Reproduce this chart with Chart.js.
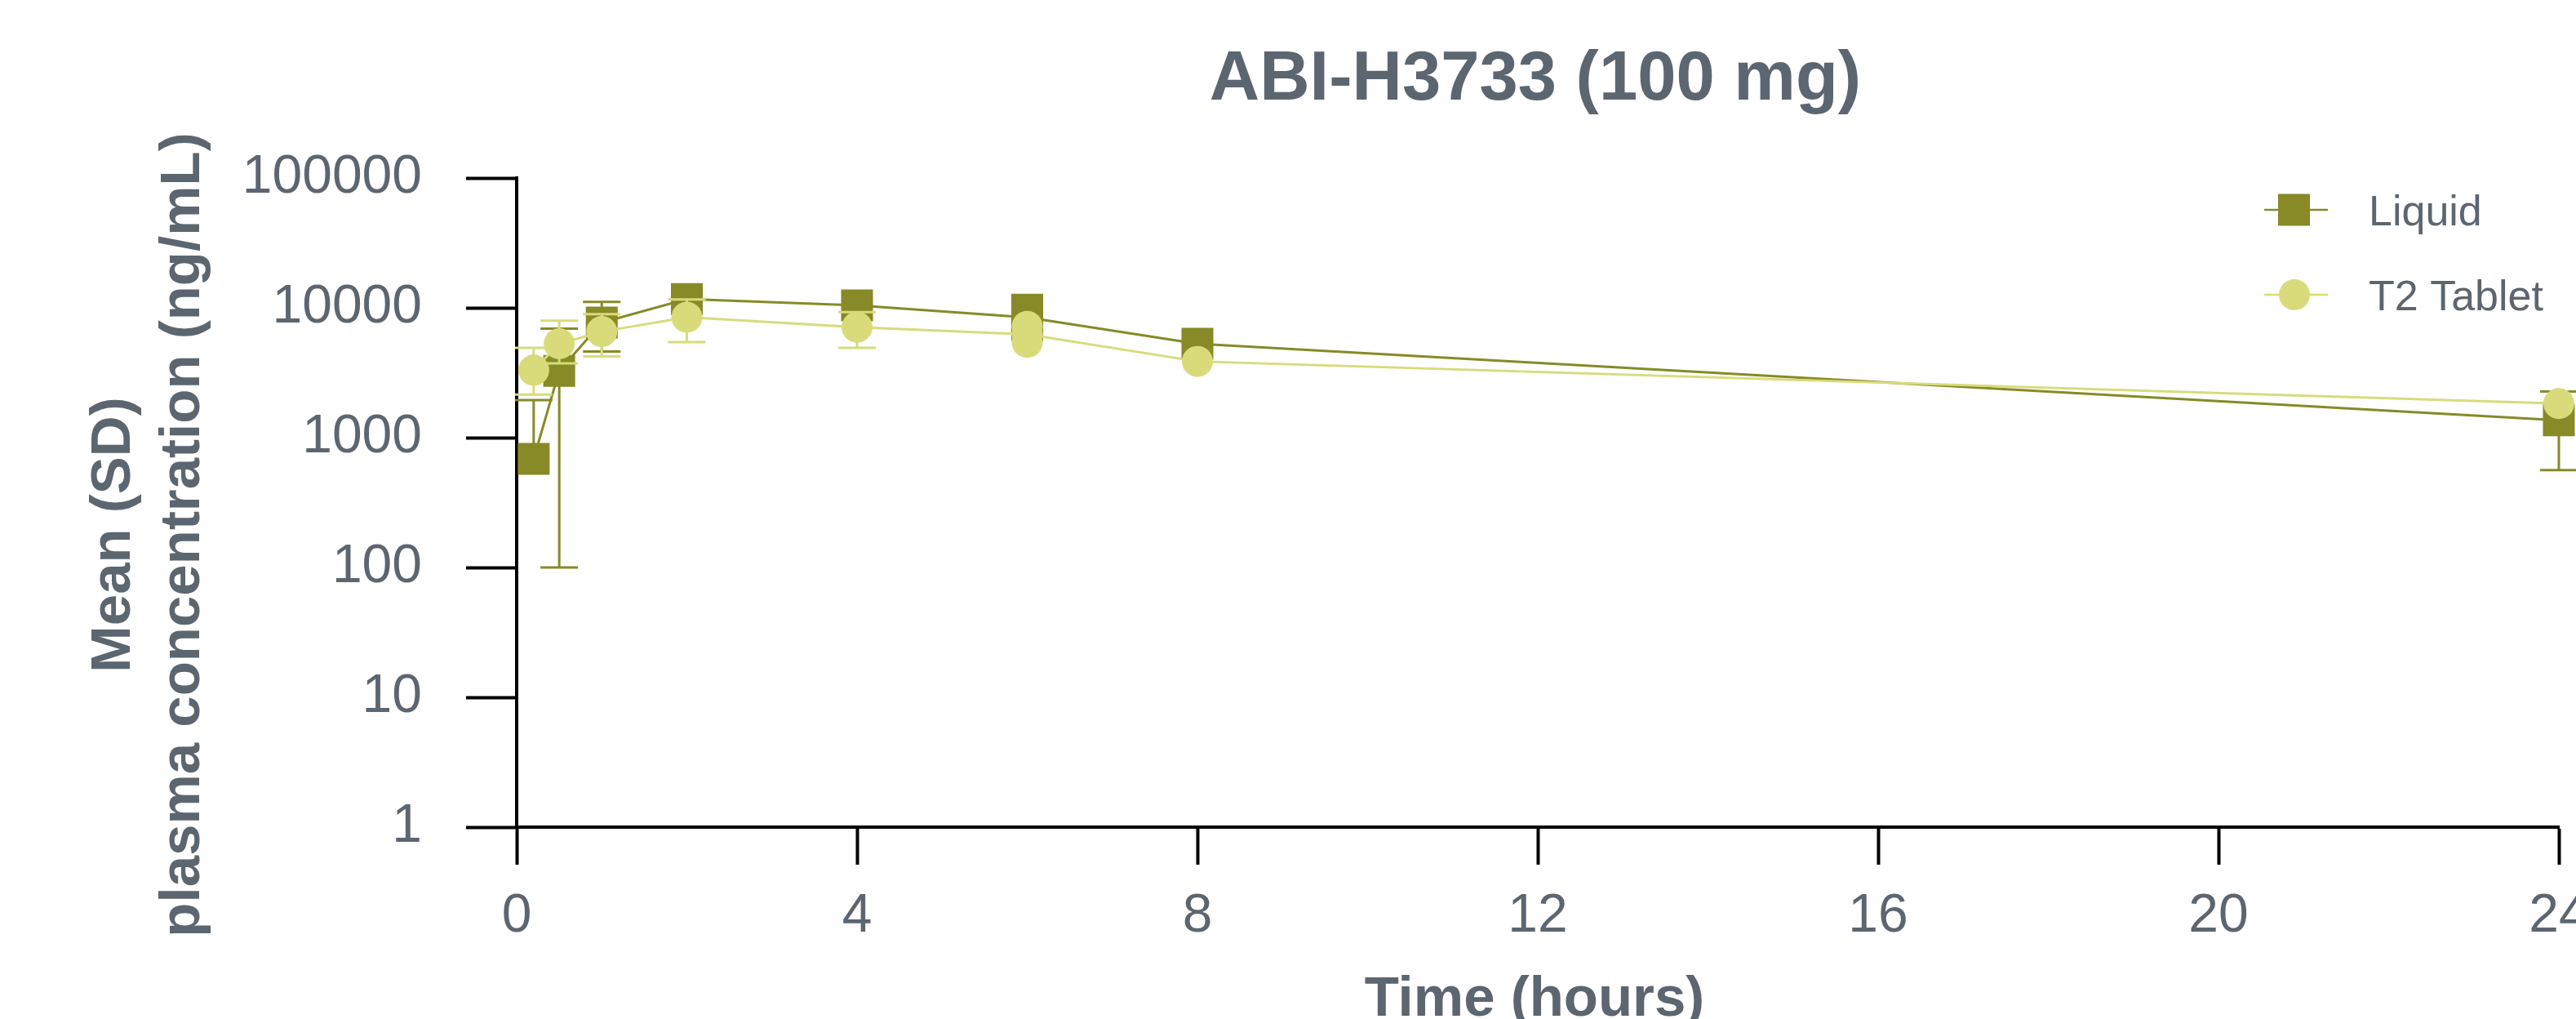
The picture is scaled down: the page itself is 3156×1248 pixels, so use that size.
<!DOCTYPE html>
<html>
<head>
<meta charset="utf-8">
<script src="https://cdn.jsdelivr.net/npm/chart.js@4.4.1/dist/chart.umd.min.js"></script>
<style>
html,body{margin:0;padding:0;background:#fff;overflow:hidden}
#wrap{position:relative;width:3156px;height:1248px}
</style>
</head>
<body>
<div id="wrap"><canvas id="c" width="3156" height="1248"></canvas></div>
<script>
// ---------- data ----------
const chartTitle = 'ABI-H3733 (100 mg)';
const xTitle = 'Time (hours)';
const yTitleLines = ['Mean (SD)', 'plasma concentration (ng/mL)'];
const seriesNames = ['Liquid', 'T2 Tablet'];
const timePoints = [0.2, 0.5, 1, 2, 4, 6, 8, 24];
const liquidMean = [687, 3265, 7710, 11690, 10440, 8445, 5290, 1361];
const liquidHigh = [1950, 6900, 11120, null, null, null, null, 2264];
const liquidLow  = [null, 100, 4600, null, null, null, null, 562];
const t2Mean = [3310, 5290, 6560, 8470, 7100, 6250, 3866, 1830];
const t2High = [4920, 7960, 8940, 11600, 9280, null, null, null];
const t2Low  = [2150, 3740, 4220, 5450, 4920, null, null, null];
const sixHourTime = 6;
const liquidSixHourSpread = [9690, 7360];
const t2SixHourSpread = [7200, 5420];
const xTicks = [0, 4, 8, 12, 16, 20, 24];
const yTicks = [1, 10, 100, 1000, 10000, 100000];

// ---------- styles ----------
const DARK = '#878a26';
const LIGHT = '#d9db7b';
const TEXT = '#5c6670';
const FAMILY = '"Liberation Sans", Arial, Helvetica, sans-serif';

const toXY = (xs, ys) => xs.map((x, i) => ({x: x, y: ys[i]}));

const errorBars = {
  id: 'errorBars',
  beforeDatasetDraw(chart, args) {
    const ds = chart.data.datasets[args.index];
    if (!ds.errHigh) return;
    const ctx = chart.ctx, xs = chart.scales.x, ys = chart.scales.y;
    ctx.save();
    ctx.strokeStyle = ds.borderColor;
    ctx.lineWidth = 3;
    ds.data.forEach((p, i) => {
      const px = xs.getPixelForValue(p.x), py = ys.getPixelForValue(p.y);
      [ds.errHigh[i], ds.errLow[i]].forEach(v => {
        if (v == null) return;
        const ey = ys.getPixelForValue(v);
        ctx.beginPath();
        ctx.moveTo(px, py); ctx.lineTo(px, ey);
        ctx.moveTo(px - 23, ey); ctx.lineTo(px + 23, ey);
        ctx.stroke();
      });
    });
    ctx.restore();
  }
};

const texts = {
  id: 'texts',
  afterDraw(chart) {
    const ctx = chart.ctx;
    ctx.save();
    ctx.fillStyle = TEXT;
    ctx.textAlign = 'center';
    ctx.textBaseline = 'alphabetic';
    // title
    ctx.font = 'bold 85px ' + FAMILY;
    ctx.fillText(chartTitle, 1881, 122);
    // x title
    ctx.font = 'bold 69px ' + FAMILY;
    ctx.fillText(xTitle, 1880, 1244);
    // y title
    const base = [159, 244];
    yTitleLines.forEach((t, i) => {
      ctx.save();
      ctx.translate(base[i], 655);
      ctx.rotate(-Math.PI / 2);
      ctx.fillText(t, 0, 0);
      ctx.restore();
    });
    // legend
    const rows = [
      {name: seriesNames[0], color: DARK, y: 257, shape: 'rect'},
      {name: seriesNames[1], color: LIGHT, y: 361, shape: 'circle'}
    ];
    rows.forEach(r => {
      ctx.strokeStyle = r.color;
      ctx.lineWidth = 2.5;
      ctx.beginPath();
      ctx.moveTo(2774, r.y); ctx.lineTo(2852, r.y);
      ctx.stroke();
      ctx.fillStyle = r.color;
      if (r.shape === 'rect') {
        ctx.fillRect(2791, r.y - 19.5, 39, 39);
      } else {
        ctx.beginPath(); ctx.arc(2811, r.y, 19, 0, Math.PI * 2); ctx.fill();
      }
      ctx.fillStyle = TEXT;
      ctx.textAlign = 'left';
      ctx.font = '52px ' + FAMILY;
      ctx.fillText(r.name, 2902, r.y + 19);
    });
    ctx.restore();
  }
};

const tickFont = {family: FAMILY, size: 66};

new Chart(document.getElementById('c'), {
  type: 'line',
  data: {
    datasets: [
      {
        label: seriesNames[1], data: toXY(timePoints, t2Mean),
        borderColor: LIGHT, backgroundColor: LIGHT, borderWidth: 3,
        pointStyle: 'circle', pointRadius: 19, pointBorderWidth: 0, pointHoverRadius: 19,
        tension: 0, order: 0, clip: false, errHigh: t2High, errLow: t2Low
      },
      {
        label: seriesNames[1] + ' 6h', data: t2SixHourSpread.map(v => ({x: sixHourTime, y: v})),
        showLine: false, borderColor: LIGHT, backgroundColor: LIGHT,
        pointStyle: 'circle', pointRadius: 19, pointBorderWidth: 0, order: 1, clip: false
      },
      {
        label: seriesNames[0], data: toXY(timePoints, liquidMean),
        borderColor: DARK, backgroundColor: DARK, borderWidth: 3,
        pointStyle: 'rect', pointRadius: 27.6, pointBorderWidth: 0, pointHoverRadius: 27.6,
        tension: 0, order: 2, clip: false, errHigh: liquidHigh, errLow: liquidLow
      },
      {
        label: seriesNames[0] + ' 6h', data: liquidSixHourSpread.map(v => ({x: sixHourTime, y: v})),
        showLine: false, borderColor: DARK, backgroundColor: DARK,
        pointStyle: 'rect', pointRadius: 27.6, pointBorderWidth: 0, order: 3, clip: false
      }
    ]
  },
  options: {
    responsive: false,
    animation: false,
    devicePixelRatio: 1,
    events: [],
    layout: {autoPadding: false, padding: {top: 218, right: 21, left: 0, bottom: 0}},
    plugins: {legend: {display: false}, title: {display: false}, tooltip: {enabled: false}},
    scales: {
      x: {
        type: 'linear', min: 0, max: 24,
        afterBuildTicks: a => { a.ticks = xTicks.map(v => ({value: v})); },
        afterFit: a => { a.height = 235; a.paddingLeft = 0; a.paddingRight = 0; },
        grid: {drawOnChartArea: false, drawTicks: true, tickLength: 46, tickWidth: 4, tickColor: '#000'},
        border: {display: true, color: '#000', width: 4},
        ticks: {font: tickFont, color: TEXT, padding: 24, maxRotation: 0, autoSkip: false,
                callback: v => String(v)}
      },
      y: {
        type: 'logarithmic', min: 1, max: 100000,
        afterBuildTicks: a => { a.ticks = yTicks.map(v => ({value: v})); },
        afterFit: a => { a.width = 633; a.paddingTop = 0; a.paddingBottom = 0; },
        grid: {drawOnChartArea: false, drawTicks: true, tickLength: 62, tickWidth: 4, tickColor: '#000'},
        border: {display: true, color: '#000', width: 4},
        ticks: {font: tickFont, color: TEXT, padding: 54, autoSkip: false,
                callback: v => String(v)}
      }
    }
  },
  plugins: [errorBars, texts]
});
</script>
</body>
</html>
